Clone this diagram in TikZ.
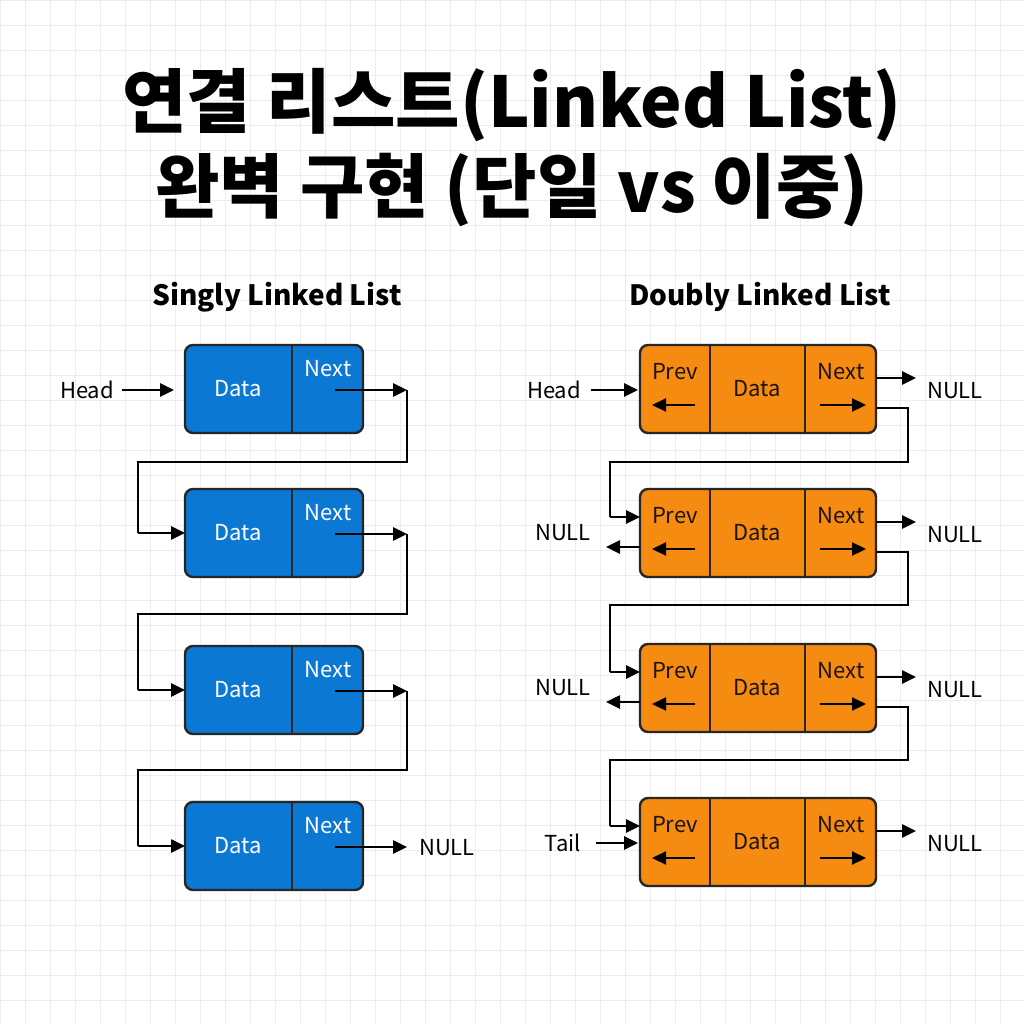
\documentclass[tikz,border=0pt]{standalone}
\usepackage{fontspec}
\setmainfont{Noto Sans CJK KR}
\usetikzlibrary{arrows.meta}
\definecolor{sblue}{HTML}{0B78D3}
\definecolor{dorange}{HTML}{F68B12}
\tikzset{
 lnk/.style={line width=2.6pt,black},
 arr/.style={lnk,-{Triangle[length=14pt,width=13pt]}},
 sbox/.style={draw=black!85,line width=2.4pt,fill=sblue,rounded corners=8pt},
 dbox/.style={draw=black!85,line width=2.4pt,fill=dorange,rounded corners=8pt},
 wt/.style={text=white,font=\fontsize{22}{22}\selectfont},
 dt/.style={text=black!85!brown,font=\fontsize{22}{22}\selectfont},
 lbl/.style={font=\fontsize{22}{22}\selectfont},
}
\begin{document}
\begin{tikzpicture}[x=1pt,y=-1pt]
\useasboundingbox (0,0) rectangle (1024,1024);
\fill[white] (0,0) rectangle (1024,1024);
\foreach \i in {0,25,...,1024} {\draw[black!7,line width=0.8pt] (\i,0)--(\i,1024); \draw[black!7,line width=0.8pt] (0,\i)--(1024,\i);}
\node[font=\bfseries\fontsize{70}{70}\selectfont] (t1) at (512,105) {연결 리스트(Linked List)};
\node[font=\bfseries\fontsize{70}{70}\selectfont] (t2) at (512,190) {완벽 구현 (단일 vs 이중)};
\node[font=\bfseries\fontsize{28}{28}\selectfont] (s1) at (277,297) {Singly Linked List};
\node[font=\bfseries\fontsize{28}{28}\selectfont] (s2) at (760,297) {Doubly Linked List};
% singly
\foreach \n/\y in {1/389,2/533,3/690,4/846}{
 \draw[sbox] (185,\y-44) rectangle (363,\y+44);
 \draw[line width=2.4pt,black!85] (292,\y-44)--(292,\y+44);
 \node[wt] (sd\n) at (238,\y) {Data};
 \node[wt] (sn\n) at (328,\y-20) {Next};
 \coordinate (sp\n) at (335,\y+1);
 \coordinate (so\n) at (407,\y+1);
 \coordinate (si\n) at (185,\y);
 \draw[arr] (sp\n)--(so\n);
}
\foreach \a/\b/\yy in {1/2/462,2/3/614,3/4/770}{
 \draw[lnk] (so\a)--(407,\yy)--(138,\yy)--(138,0|-si\b);
 \draw[arr] (138,0|-si\b)--(si\b);
}
\node[lbl] (head1) at (87,390) {Head};
\draw[arr] (122,390) -- (174,390);
\node[lbl] (null1) at (447,848) {NULL};
% doubly
\foreach \n/\y in {1/389,2/533,3/688,4/842}{
 \draw[dbox] (640,\y-44) rectangle (876,\y+44);
 \draw[line width=2.4pt,black!85] (710,\y-44)--(710,\y+44);
 \draw[line width=2.4pt,black!85] (805,\y-44)--(805,\y+44);
 \node[dt] (dp\n) at (675,\y-17) {Prev};
 \node[dt] (dd\n) at (757,\y) {Data};
 \node[dt] (dn\n) at (841,\y-17) {Next};
 \draw[arr,line width=2.2pt] (695,\y+16)--(652,\y+16);
 \draw[arr,line width=2.2pt] (820,\y+16)--(866,\y+16);
 \node[lbl] (rn\n) at (955,\y+2) {NULL};
 \draw[arr] (876,\y-11)--(916,\y-11);
 \coordinate (do\n) at (876,\y+19);
 \coordinate (di\n) at (640,\y-16);
}
\foreach \a/\b/\yy in {1/2/462,2/3/605,3/4/760}{
 \draw[lnk] (do\a)--(908,0|-do\a)--(908,\yy)--(610,\yy)--(610,0|-di\b);
 \draw[arr] (610,0|-di\b)--(di\b);
}
\foreach \n/\y in {2/533,3/688}{
 \node[lbl] (ln\n) at (563,\y) {NULL};
 \draw[arr] (640,\y+14)--(606,\y+14);
}
\node[lbl] (head2) at (554,390) {Head};
\draw[arr] (591,390)--(638,390);
\node[lbl] (tail) at (563,843) {Tail};
\draw[arr] (596,843)--(638,843);
\end{tikzpicture}
\end{document}
